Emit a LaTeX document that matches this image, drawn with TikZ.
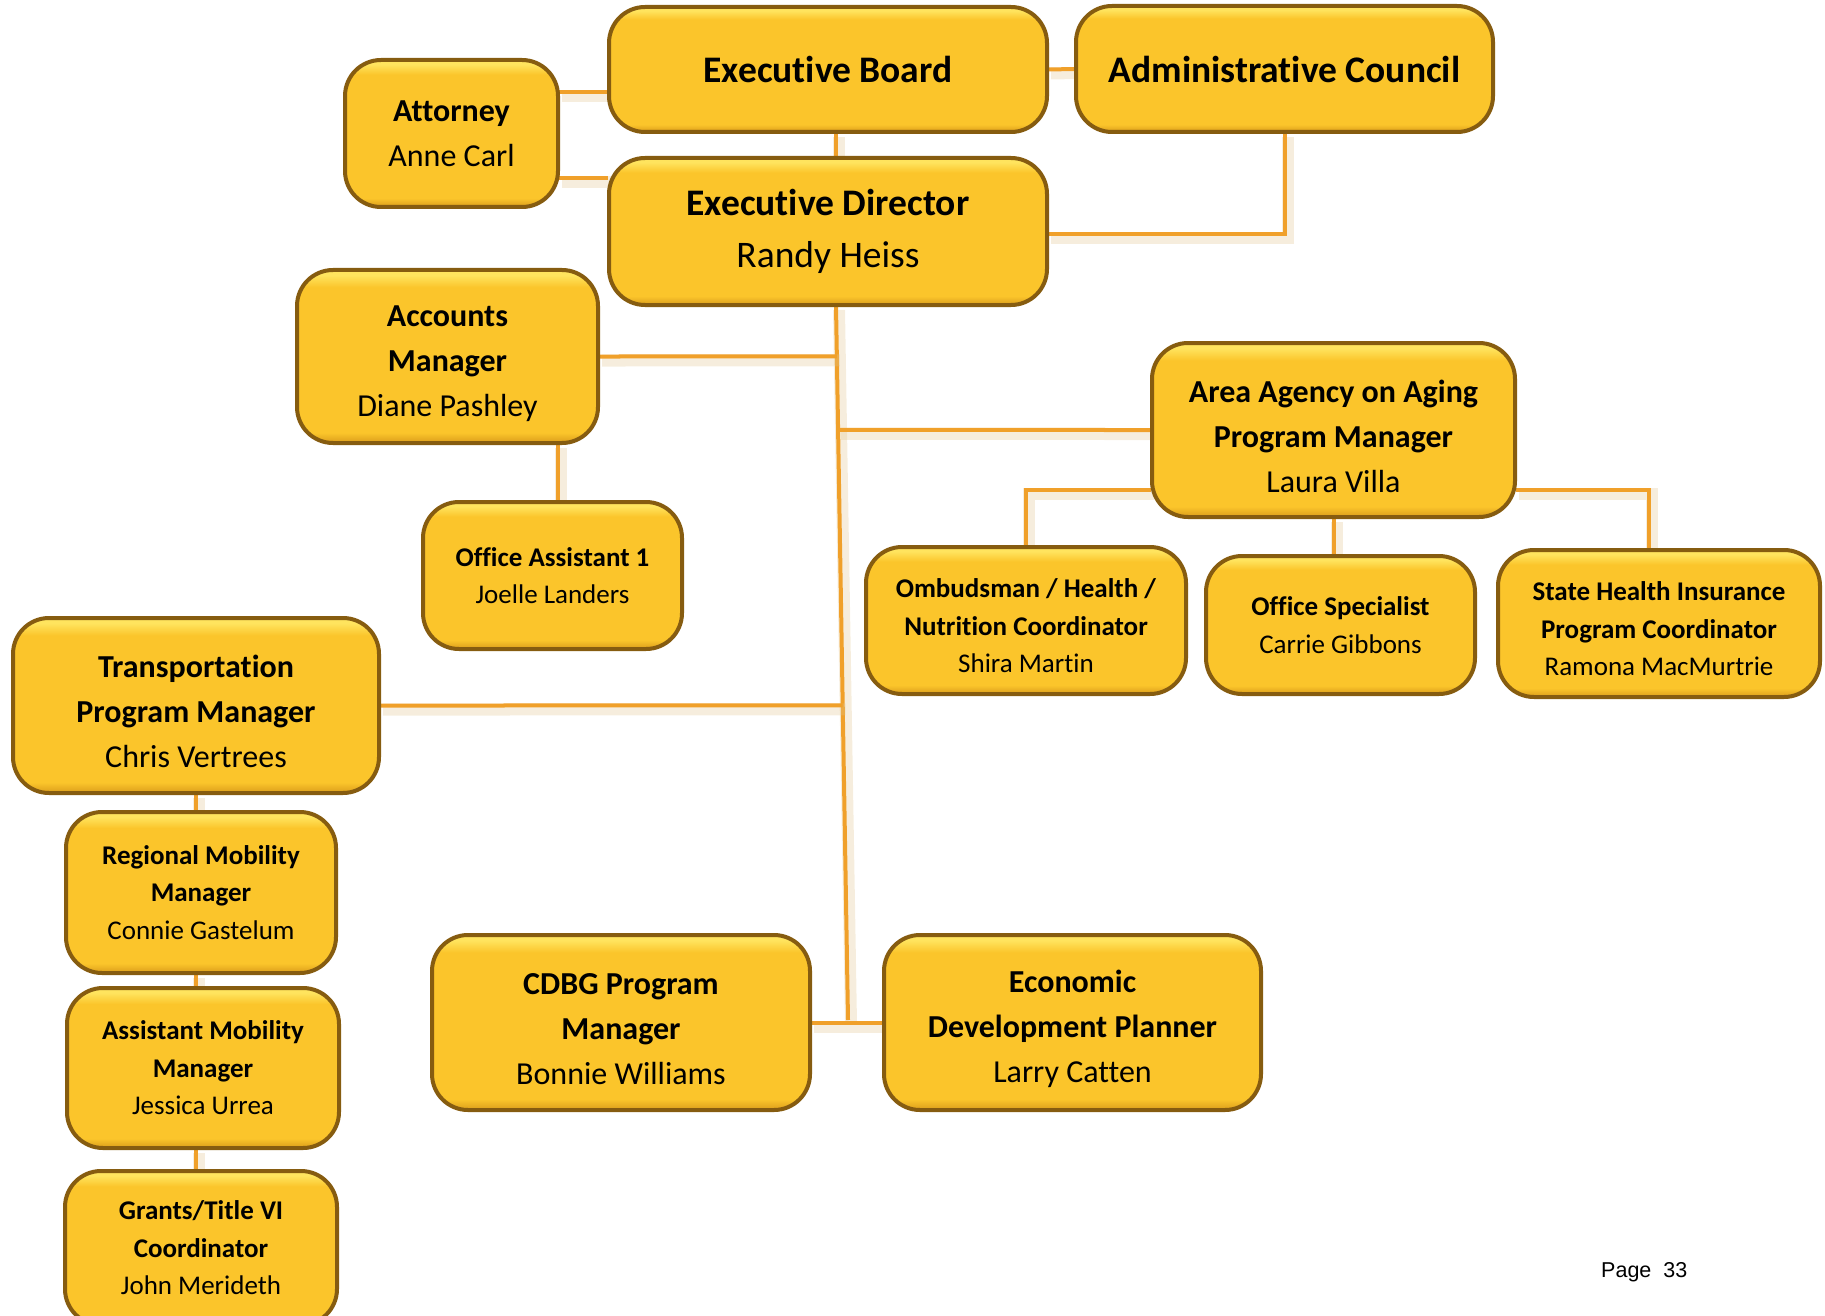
\documentclass[tikz,border=0pt]{standalone}
\usepackage{fontspec}
\setmainfont{Carlito}[Ligatures={NoCommon}]
\newfontfamily\pagefont{Liberation Sans}
\usetikzlibrary{calc,backgrounds}
\definecolor{bmain}{HTML}{FBC52B}
\definecolor{blight}{HTML}{FFE45E}
\definecolor{bdark}{HTML}{DA9C1A}
\definecolor{bedge}{HTML}{865C10}
\definecolor{lorange}{HTML}{F0A02A}
\definecolor{lglow}{HTML}{E2C58E}
\pgfdeclareverticalshading{boxshade}{100bp}{color(0bp)=(bdark); color(25bp)=(bdark); color(28bp)=(bmain); color(70bp)=(bmain); color(73.5bp)=(blight); color(75bp)=(blight); color(100bp)=(blight)}
\newcommand\topgap{\rule{0pt}{1.1em}}
\tikzset{
  box/.style={shading=boxshade, draw=bedge, line width=2pt, rounded corners=18,
    inner sep=0, align=center, text=black},
  fA/.style={font=\fontsize{37.5}{52}\selectfont},
  fB/.style={font=\fontsize{32}{45}\selectfont},
  fC/.style={font=\fontsize{27}{37.5}\selectfont},
  link/.style={draw=lorange, line width=2pt,
    preaction={draw=lglow, line width=6pt, opacity=0.3,
      transform canvas={xshift=1.5pt,yshift=-2pt}}},
}
\begin{document}
\begin{tikzpicture}[x=1pt,y=-1pt,scale=0.5,every node/.append style={transform shape}]
\useasboundingbox (0,0) rectangle (1825,1316);
\begin{scope}[overlay]
\clip (0,0) rectangle (1825,1316);
% boxes
\node[box,fA,minimum width=438,minimum height=125] (EB) at (828,69.5) {\textbf{Executive Board}};
\node[box,fA,minimum width=417,minimum height=126] (AC) at (1284.5,69) {\textbf{Administrative Council}};
\node[box,fB,minimum width=213,minimum height=147] (Att) at (451.5,133.5) {\textbf{Attorney}\\Anne Carl};
\node[box,fA,minimum width=438,minimum height=147] (ED) at (828,231.5) {\textbf{Executive Director}\\Randy Heiss};
\node[box,fB,minimum width=301,minimum height=173] (AM) at (447.5,356.5) {\topgap\textbf{Accounts}\\\textbf{Manager}\\Diane Pashley};
\node[box,fC,minimum width=259,minimum height=147] (OA) at (552.5,575.5) {\textbf{Office Assistant 1}\\Joelle Landers};
\node[box,fB,minimum width=363,minimum height=174] (AAA) at (1333.5,430) {\topgap\textbf{Area Agency on Aging}\\\textbf{Program Manager}\\Laura Villa};
\node[box,fC,minimum width=320,minimum height=147] (OM) at (1026,620.5) {\topgap\textbf{Ombudsman / Health /}\\\textbf{Nutrition Coordinator}\\Shira Martin};
\node[box,fC,minimum width=269,minimum height=138] (OS) at (1340.5,625) {\textbf{Office Specialist}\\Carrie Gibbons};
\node[box,fC,minimum width=322,minimum height=147] (SH) at (1659,623.5) {\topgap\textbf{State Health Insurance}\\\textbf{Program Coordinator}\\Ramona MacMurtrie};
\node[box,fB,minimum width=366,minimum height=175] (TP) at (196,705.5) {\topgap\textbf{Transportation}\\\textbf{Program Manager}\\Chris Vertrees};
\node[box,fC,minimum width=270,minimum height=161] (RM) at (201,892.5) {\textbf{Regional Mobility}\\\textbf{Manager}\\Connie Gastelum};
\node[box,fC,minimum width=272,minimum height=160] (AS) at (203,1068) {\textbf{Assistant Mobility}\\\textbf{Manager}\\Jessica Urrea};
\node[box,fC,minimum width=272,minimum height=154] (GR) at (201,1248) {\textbf{Grants/Title VI}\\\textbf{Coordinator}\\John Merideth};
\node[box,fB,minimum width=378,minimum height=175] (CD) at (621,1022.5) {\topgap\textbf{CDBG Program}\\\textbf{Manager}\\Bonnie Williams};
\node[box,fB,minimum width=377,minimum height=175] (EC) at (1072.5,1022.5) {\topgap\textbf{Economic}\\\textbf{Development Planner}\\Larry Catten};
\node[font=\pagefont\fontsize{21.5}{25}\selectfont, anchor=base west, inner sep=0] (pg) at (1601,1277) {Page\ \ 33};
% connectors
\begin{scope}[on background layer]
\coordinate (tTop) at ([xshift=8]ED.south);
\coordinate (tBot) at (848,1020);
\coordinate (oaN) at ([xshift=5]OA.north);
\draw[link] (EB.east) -- (AC.west);
\draw[link] ($(Att.north east)!0.224!(Att.south east)$) coordinate (a1) -- (a1 -| EB.west);
\draw[link] ($(Att.north east)!0.80!(Att.south east)$) coordinate (a2) -- (a2 -| ED.west);
\draw[link] (EB.south -| tTop) -- (tTop |- ED.north);
\draw[link] (AC.south) |- ($(ED.north east)!0.52!(ED.south east)$);
\draw[link] (tTop) -- (tBot);
\draw[link] (AM.east) -- (intersection of tTop--tBot and AM.east--AM.west);
\draw[link] (AAA.west) -- (intersection of tTop--tBot and AAA.east--AAA.west);
\draw[link] (TP.east) -- (intersection of tTop--tBot and TP.east--TP.west);
\draw[link] (CD.east) -- (EC.west);
\draw[link] (oaN) -- (oaN |- AM.south);
\draw[link] ($(AAA.north west)!0.84!(AAA.south west)$) -| (OM.north);
\draw[link] (AAA.south) -- (AAA.south |- OS.north);
\draw[link] ($(AAA.north east)!0.84!(AAA.south east)$) -| ([xshift=-10]SH.north);
\draw[link] (TP.south) -- (TP.south |- RM.north);
\draw[link] (TP.south |- RM.south) -- (TP.south |- AS.north);
\draw[link] (TP.south |- AS.south) -- (TP.south |- GR.north);
\end{scope}
\end{scope}
\end{tikzpicture}
\end{document}
